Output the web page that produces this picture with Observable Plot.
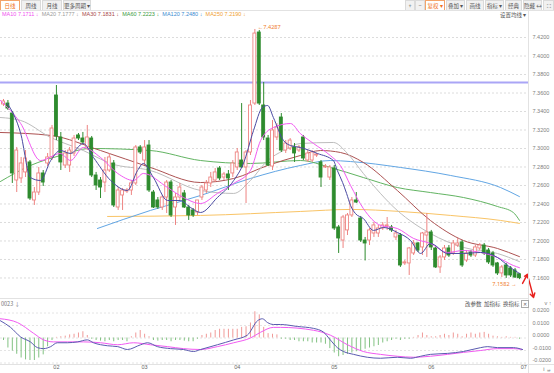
<!DOCTYPE html>
<html><head><meta charset="utf-8">
<script src="https://cdn.jsdelivr.net/npm/d3@7"></script>
<script src="https://cdn.jsdelivr.net/npm/@observablehq/plot@0.6"></script>
<style>
body{margin:0;width:554px;height:373px;overflow:hidden;background:#fff;position:relative;font-family:"Liberation Sans","Noto Sans CJK SC",sans-serif;}
.btn{position:absolute;top:0;height:11px;line-height:10px;font-size:5.5px;color:#555;background:#f1f1f1;border:1px solid #dadada;box-sizing:border-box;text-align:center;font-family:"Noto Sans CJK SC",sans-serif;white-space:nowrap;}
.btn.on{background:#fff;color:#f07020;border-color:#f3a46a;}
.line{position:absolute;background:#e2e2e2;}
#legend{position:absolute;left:2px;top:11px;font-size:5.5px;white-space:nowrap;}
#legend span{margin-right:3.2px;}
.small{position:absolute;font-size:5.5px;color:#555;white-space:nowrap;font-family:"Noto Sans CJK SC",sans-serif;}
#main{position:absolute;left:0;top:20px;}
#macd{position:absolute;left:0;top:298px;}
</style></head><body>
<div id="toolbar"></div>
<div class="line" style="left:0;top:10px;width:554px;height:1px"></div>
<div id="legend"></div>
<div class="small" style="left:500px;top:11px">设置均线 ▾</div>
<div id="main"></div>
<div id="macd"></div>
<div class="line" style="left:0;top:298px;width:528px;height:1px"></div>
<div class="line" style="left:0;top:364px;width:554px;height:1px"></div>
<div class="line" style="left:528px;top:10px;width:1px;height:363px"></div>
<div class="small" style="left:1px;top:300px;color:#777">0023 ↓</div>
<div class="small" style="left:465px;top:300px;color:#555">改参数&nbsp;&nbsp;加指标&nbsp;&nbsp;换指标</div>
<div class="small" style="left:521px;top:300px;width:6px;height:6px;line-height:6px;border:1px solid #aaa;text-align:center;font-size:5px;color:#666">✕</div>
<div class="small" style="left:547px;top:368px;height:5px;line-height:5px;color:#999;font-size:6px;font-family:'Liberation Sans'">»</div>
<script>
// ---------- data ----------
const leftTabs = ["日线","周线","月线","更多周期 ▾"];
const rightTools = ["+","−","复权 ▾","叠加 ▾","画线","指标 ▾","经典","隐藏 ↔","⛶"];
const maNames = ["MA10","MA20","MA30","MA60","MA120","MA250"];
const maLast = [7.1711,7.1777,7.1831,7.2223,7.2480,7.2190];

const opens = [7.3476,7.3486,7.3378,7.2654,7.2676,7.2741,7.2849,7.2438,7.2524,7.2730,
7.2838,7.2903,7.3573,7.3119,7.2816,7.2816,7.2946,7.3141,7.3108,7.3011,
7.3108,7.2708,7.2654,7.2632,7.2762,7.2838,7.2362,7.2492,7.2535,7.2546,
7.2622,7.3011,7.2870,7.3032,7.2524,7.2438,7.2362,7.2470,7.2632,7.2362,
7.2470,7.2514,7.2362,7.2330,7.2308,7.2470,7.2546,7.2622,7.2654,7.2784,
7.2686,7.2719,7.2730,7.2795,7.2870,7.2795,7.2957,7.3486,7.4254,7.3465,
7.3108,7.2805,7.3119,7.3335,7.2978,7.3000,7.3011,7.2978,7.3119,7.2870,
7.2870,7.2924,7.2849,7.2795,7.2686,7.2784,7.2146,7.2005,7.2114,7.2276,
7.2438,7.2243,7.2005,7.2005,7.2081,7.2081,7.2135,7.2157,7.2146,7.2038,
7.2059,7.1757,7.1757,7.1865,7.1973,7.1930,7.2059,7.2092,7.1919,7.1714,
7.1822,7.1919,7.1865,7.1951,7.1984,7.1789,7.1876,7.1843,7.1919,7.1951,
7.1897,7.1865,7.1757,7.1649,7.1735,7.1703,7.1681,7.1640];
const highs = [7.3530,7.3519,7.3400,7.3011,7.2903,7.2978,7.2870,7.2578,7.2795,7.2762,
7.2946,7.3249,7.3681,7.3173,7.2978,7.3011,7.3141,7.3162,7.3173,7.3249,
7.3130,7.2741,7.2686,7.2903,7.2946,7.2870,7.2578,7.2568,7.2568,7.2654,
7.3032,7.3032,7.3086,7.3086,7.2546,7.2470,7.2492,7.2654,7.2654,7.2514,
7.2622,7.2546,7.2384,7.2351,7.2384,7.2600,7.2654,7.2741,7.2784,7.2805,
7.2741,7.2762,7.2870,7.3000,7.3486,7.2978,7.3519,7.4287,7.4276,7.3714,
7.3141,7.3303,7.3270,7.3378,7.3086,7.3108,7.3054,7.3032,7.3141,7.2978,
7.2978,7.2946,7.2870,7.2827,7.2816,7.2816,7.2168,7.2276,7.2297,7.2470,
7.2524,7.2265,7.2038,7.2135,7.2200,7.2168,7.2200,7.2254,7.2168,7.2114,
7.2081,7.1789,7.1930,7.2005,7.1984,7.2092,7.2297,7.2114,7.1941,7.1843,
7.1951,7.1951,7.2005,7.2027,7.2005,7.1897,7.1897,7.1951,7.1973,7.1973,
7.1919,7.1887,7.1768,7.1735,7.1757,7.1724,7.1703,7.1650];
const lows = [7.3454,7.3411,7.2622,7.2524,7.2622,7.2686,7.2438,7.2384,7.2492,7.2589,
7.2805,7.2870,7.3086,7.2762,7.2784,7.2741,7.2914,7.3086,7.3043,7.2978,
7.2686,7.2546,7.2459,7.2524,7.2741,7.2362,7.2330,7.2330,7.2514,7.2492,
7.2600,7.2935,7.2816,7.2524,7.2351,7.2341,7.2330,7.2297,7.2254,7.2168,
7.2438,7.2351,7.2222,7.2254,7.2276,7.2438,7.2514,7.2578,7.2632,7.2654,
7.2654,7.2546,7.2686,7.2762,7.2784,7.2405,7.2924,7.3465,7.3465,7.3086,
7.2805,7.2762,7.3086,7.2957,7.2946,7.2978,7.2849,7.2957,7.2870,7.2849,
7.2849,7.2903,7.2578,7.2784,7.2654,7.2114,7.1865,7.1919,7.2059,7.2254,
7.2405,7.1984,7.1784,7.1951,7.2038,7.2038,7.2114,7.2114,7.2092,7.2005,
7.1714,7.1735,7.1627,7.1843,7.1876,7.1843,7.1822,7.1897,7.1703,7.1649,
7.1789,7.1822,7.1843,7.1930,7.1714,7.1768,7.1822,7.1822,7.1897,7.1843,
7.1746,7.1714,7.1627,7.1605,7.1595,7.1605,7.1595,7.1582];
const closes = [7.3508,7.3432,7.2730,7.2978,7.2838,7.2892,7.2459,7.2524,7.2730,7.2632,
7.2903,7.3216,7.3130,7.2849,7.2946,7.2978,7.3108,7.3108,7.3065,7.3119,
7.2708,7.2600,7.2578,7.2762,7.2903,7.2384,7.2546,7.2546,7.2546,7.2622,
7.3011,7.2957,7.3011,7.2546,7.2362,7.2362,7.2470,7.2632,7.2276,7.2470,
7.2578,7.2362,7.2276,7.2276,7.2438,7.2578,7.2622,7.2686,7.2741,7.2676,
7.2719,7.2676,7.2838,7.2957,7.2795,7.2957,7.3465,7.4243,7.3486,7.3119,
7.2816,7.3195,7.3227,7.2978,7.3054,7.3086,7.2946,7.3011,7.2892,7.2946,
7.2957,7.2935,7.2686,7.2805,7.2795,7.2135,7.2027,7.2254,7.2276,7.2438,
7.2416,7.2005,7.1973,7.2114,7.2168,7.2135,7.2168,7.2168,7.2114,7.2081,
7.1735,7.1768,7.1919,7.1973,7.1897,7.2081,7.2092,7.1930,7.1714,7.1822,
7.1919,7.1843,7.1973,7.1973,7.1735,7.1865,7.1843,7.1930,7.1951,7.1865,
7.1768,7.1735,7.1649,7.1714,7.1627,7.1627,7.1605,7.1598];

// moving-average lines: [candle index, price]
const ma5Pts = [[0.9,7.3486],[3.9,7.3162],[6.1,7.2686],[8.4,7.2654],[10.7,7.2870],[12.9,7.2978],[15.2,7.2946],[18.1,7.3054],[20.4,7.2903],[24.3,7.2654],[28.1,7.2546],[30.4,7.2762],[31.7,7.2838],[34.0,7.2686],[37.2,7.2438],[40.1,7.2438],[42.4,7.2362],[44.7,7.2308],[48.5,7.2470],[52.2,7.2654],[54.4,7.2838],[56.7,7.3195],[58.7,7.3443],[59.9,7.3465],[61.2,7.3335],[63.5,7.3086],[65.1,7.3032],[67.3,7.3011],[71.2,7.2946],[74.8,7.2870],[75.7,7.2762],[76.9,7.2632],[77.8,7.2514],[78.7,7.2384],[79.8,7.2297],[81.6,7.2243],[83.9,7.2114],[86.2,7.2146],[89.3,7.2092],[92.3,7.2005],[94.6,7.1865],[96.8,7.1973],[100.7,7.1865],[104.3,7.1865],[108.2,7.1876],[112.0,7.1822],[114.9,7.1714],[117.0,7.1649]];
const ma10Pts = [[-0.7,7.3519],[3.9,7.3270],[8.4,7.2870],[12.9,7.2946],[15.2,7.2870],[18.1,7.3011],[22.0,7.2903],[25.9,7.2730],[29.5,7.2654],[31.7,7.2730],[37.2,7.2578],[40.8,7.2470],[44.7,7.2405],[48.5,7.2514],[52.2,7.2622],[56.0,7.2762],[58.3,7.3086],[61.2,7.3227],[65.1,7.3270],[67.3,7.3162],[70.3,7.3054],[74.1,7.2924],[76.4,7.2816],[78.7,7.2600],[81.6,7.2351],[85.5,7.2168],[89.3,7.2135],[93.0,7.2027],[96.8,7.1973],[100.7,7.1876],[104.3,7.1897],[108.2,7.1876],[112.0,7.1822],[115.6,7.1735],[117.0,7.1711]];
const ma20Pts = [[-0.7,7.3335],[3.9,7.3303],[10.7,7.3119],[18.1,7.2978],[24.3,7.2838],[33.3,7.2762],[44.7,7.2546],[52.2,7.2514],[56.0,7.2654],[59.9,7.2870],[63.5,7.2978],[67.3,7.3054],[74.8,7.3065],[78.0,7.2946],[81.6,7.2730],[89.3,7.2330],[96.8,7.2081],[104.3,7.1930],[112.0,7.1865],[117.0,7.1777]];
const ma30Pts = [[-0.7,7.3173],[10.7,7.3141],[22.0,7.2978],[33.3,7.2795],[44.7,7.2632],[52.2,7.2676],[59.9,7.2816],[67.3,7.2924],[71.9,7.2978],[76.4,7.2957],[81.6,7.2849],[89.3,7.2546],[96.8,7.2222],[104.3,7.2005],[112.0,7.1919],[117.0,7.1831]];
const ma60Pts = [[-0.7,7.2643],[6.1,7.2816],[12.9,7.2924],[19.7,7.3000],[33.3,7.2978],[44.7,7.2870],[56.0,7.2838],[67.3,7.2870],[74.1,7.2795],[81.6,7.2686],[89.3,7.2578],[96.8,7.2524],[104.3,7.2470],[112.0,7.2373],[115.6,7.2308],[117.0,7.2223]];
const ma120Pts = [[21.3,7.2135],[33.3,7.2330],[44.7,7.2492],[56.0,7.2676],[67.3,7.2816],[74.1,7.2870],[78.7,7.2859],[90.0,7.2795],[101.4,7.2708],[112.7,7.2578],[117.0,7.2480]];
const ma250Pts = [[23.6,7.2265],[44.7,7.2276],[67.3,7.2319],[78.7,7.2341],[90.0,7.2319],[101.4,7.2276],[112.7,7.2222],[117.0,7.2190]];

const purpleLevel = 7.3714;
const highMark = {i: 57, v: 7.4287};
const lowMark = {i: 117, v: 7.1582};
const arrowPath = [[117.7,7.1541],[118.8,7.1638],[120.2,7.1389]];

const priceTicks = [7.42,7.40,7.38,7.36,7.34,7.32,7.30,7.28,7.26,7.24,7.22,7.20,7.18,7.16];
const macdTicks = [0.02,0.01,0,-0.01,-0.02];
const monthIdx = [12,32,53,75,97,118];
const monthLabels = ["02","03","04","05","06","07"];

const hist = [-0.002,-0.008,-0.0105,-0.013,-0.016,-0.0175,-0.018,-0.018,-0.016,-0.0135,
-0.007,-0.002,0.0005,0.001,0.0015,0.0025,0.003,0.004,0.005,0.002,
-0.001,-0.002,-0.0025,-0.003,-0.002,-0.003,-0.002,-0.002,-0.003,0.001,
0.004,0.006,0.003,0.001,-0.002,-0.0025,-0.002,-0.002,-0.003,-0.002,
-0.002,-0.0025,-0.003,-0.003,-0.001,0.002,0.003,0.004,0.006,0.007,
0.007,0.007,0.007,0.007,0.0085,0.009,0.012,0.021,0.0185,0.0085,
0.0035,0.003,0.0025,-0.001,-0.001,-0.002,-0.002,-0.003,-0.003,-0.003,
-0.004,-0.004,-0.004,-0.005,-0.0085,-0.012,-0.015,-0.014,-0.013,-0.012,
-0.011,-0.010,-0.009,-0.008,-0.007,-0.006,-0.004,-0.003,-0.002,-0.001,
-0.002,-0.001,-0.001,0.0005,0.002,0.004,0.002,0.001,0.001,0.002,
0.003,0.002,0.004,0.003,0.001,0.003,0.004,0.003,0.004,0.0045,
0.003,0.0015,0.001,0.0005,0.001,0.0005,0.0005,-0.001];
const difPts = [[-0.7,0.0138],[1.6,0.0085],[3.9,0.0008],[6.1,-0.0031],[7.7,-0.0077],[9.1,-0.0085],[10.7,-0.0069],[12.2,-0.0038],[14.5,-0.0038],[16.8,-0.0031],[19.0,-0.0015],[20.4,-0.0038],[23.6,-0.0062],[25.9,-0.0069],[28.1,-0.0092],[31.1,-0.0054],[32.7,-0.0038],[34.9,-0.0069],[37.9,-0.0085],[40.8,-0.0092],[43.1,-0.0108],[44.7,-0.0092],[48.5,-0.0054],[52.2,-0.0015],[55.3,0.0023],[57.6,0.0138],[58.7,0.0154],[59.9,0.0123],[61.2,0.0108],[62.8,0.0108],[66.7,0.0092],[70.3,0.0077],[72.6,0.0046],[74.1,-0.0015],[75.7,-0.0077],[77.1,-0.0108],[79.4,-0.0131],[82.5,-0.0154],[85.5,-0.0162],[89.3,-0.0154],[92.3,-0.0162],[94.6,-0.0146],[96.8,-0.0131],[100.7,-0.0123],[104.3,-0.0108],[108.2,-0.0077],[109.8,-0.0069],[112.0,-0.0077],[115.6,-0.0077],[117.7,-0.0092]];
const deaPts = [[-0.7,0.0154],[3.2,0.0123],[6.8,0.0038],[9.1,-0.0015],[11.3,-0.0031],[14.5,-0.0031],[18.1,-0.0031],[22.0,-0.0038],[25.9,-0.0054],[29.5,-0.0038],[33.3,-0.0054],[37.2,-0.0069],[40.8,-0.0085],[44.7,-0.0092],[48.5,-0.0069],[52.2,-0.0038],[56.0,0.0000],[58.3,0.0046],[61.2,0.0085],[62.8,0.0085],[70.3,0.0062],[74.1,0.0023],[78.0,-0.0054],[81.6,-0.0108],[85.5,-0.0131],[89.3,-0.0146],[93.0,-0.0154],[96.8,-0.0146],[100.7,-0.0131],[104.3,-0.0115],[108.2,-0.0100],[112.0,-0.0085],[115.6,-0.0085],[117.7,-0.0092]];

// ---------- styling ----------
const UP = "#ee8482", DOWN = "#2e8b2e";
const maColors = ["#f050f0","#999999","#a84848","#3a9a3a","#3a8ad0","#f0a030"];
const lineColors = {ma5:"#4a4aa2", ma10:"#f25af2", ma20:"#bdbdbd", ma30:"#ad5252", ma60:"#62b462", ma120:"#62a6e4", ma250:"#f9c466"};

// toolbar
const tb = document.getElementById("toolbar");
const lw = [20,20,20,28]; let lx = 0;
leftTabs.forEach((t,k)=>{const d=document.createElement("div");d.className="btn"+(k===0?" on":"");d.style.left=lx+"px";d.style.width=lw[k]+"px";d.textContent=t;tb.appendChild(d);lx+=lw[k]+1;});
const rl = [405,415,425,446,466,485,505,523,543], rw=[10,10,20,19,18,19,17,19,11];
rightTools.forEach((t,k)=>{const d=document.createElement("div");d.className="btn"+(k===2?" on":"");d.style.left=rl[k]+"px";d.style.width=rw[k]+"px";d.textContent=t;tb.appendChild(d);});
// legend
const lg = document.getElementById("legend");
maNames.forEach((n,k)=>{const s=document.createElement("span");s.style.color=maColors[k];s.textContent=n+" "+maLast[k].toFixed(4)+" ↓";lg.appendChild(s);});

const candles = opens.map((o,i)=>({i, o, h: highs[i], l: lows[i], c: closes[i], up: closes[i] >= o}));
const xDomain = [-0.68, 119.05];
const fmt4 = d3.format(".4f");
const axisFont = {fontSize: 5.5, fill: "#808080", fontFamily: "Liberation Sans"};
const ptsLine = (pts, color, w=1) => Plot.line(pts, {x: d=>d[0], y: d=>d[1], stroke: color, strokeWidth: w, curve: "monotone-x"});

const main = Plot.plot({
  width: 554, height: 278, marginLeft: 0, marginRight: 26, marginTop: 0, marginBottom: 0,
  x: {domain: xDomain, axis: null},
  y: {domain: [7.1378, 7.4384], axis: null},
  color: {type: "identity"},
  style: {background: "transparent", overflow: "visible"},
  marks: [
    Plot.gridY(priceTicks, {stroke: "#dcdcdc", strokeOpacity: 1, strokeDasharray: "2,2"}),
    Plot.axisY(priceTicks, {anchor: "right", tickSize: 0, tickPadding: 4, tickFormat: fmt4, ...axisFont}),
    Plot.ruleY([purpleLevel], {stroke: "#aaa5f6", strokeWidth: 2}),
    ptsLine(ma250Pts, lineColors.ma250),
    ptsLine(ma120Pts, lineColors.ma120),
    ptsLine(ma60Pts, lineColors.ma60),
    ptsLine(ma30Pts, lineColors.ma30),
    ptsLine(ma20Pts, lineColors.ma20),
    Plot.ruleX(candles, {x: "i", y1: "l", y2: "h", stroke: d => d.up ? UP : DOWN, strokeWidth: 1}),
    Plot.rect(candles, {x1: d => d.i - 0.33, x2: d => d.i + 0.33, y1: "o", y2: "c", fill: d => d.up ? "#ffffff" : DOWN, stroke: d => d.up ? UP : DOWN, strokeWidth: 0.9}),
    ptsLine(ma10Pts, lineColors.ma10),
    ptsLine(ma5Pts, lineColors.ma5),
    Plot.text([highMark], {x: "i", y: "v", text: d => "←" + d.v.toFixed(4), textAnchor: "start", dx: 3, dy: -2, fill: "#f07d2c", fontSize: 5.5}),
    Plot.text([lowMark], {x: "i", y: "v", text: d => d.v.toFixed(4) + " →", textAnchor: "end", dx: -3, dy: 5, fill: "#f07d2c", fontSize: 5.5}),
    Plot.arrow([0,1], {x1: k => arrowPath[k][0], y1: k => arrowPath[k][1], x2: k => arrowPath[k+1][0], y2: k => arrowPath[k+1][1], stroke: "#e8201c", strokeWidth: 1.4, headLength: 5})
  ]
});
document.getElementById("main").appendChild(main);

const histData = hist.map((v,i)=>({i, v}));
const macd = Plot.plot({
  width: 554, height: 75, marginLeft: 0, marginRight: 26, marginTop: 0, marginBottom: 9,
  x: {domain: xDomain, axis: null},
  y: {domain: [-0.0212, 0.0316], axis: null},
  color: {type: "identity"},
  style: {background: "transparent", overflow: "visible"},
  marks: [
    Plot.gridY(macdTicks, {stroke: "#e4e4e4", strokeOpacity: 1, strokeDasharray: "2,2"}),
    Plot.axisY(macdTicks, {anchor: "right", tickSize: 0, tickPadding: 4, dy: -2.5, tickFormat: d => fmt4(d).replace("−","-"), ...axisFont}),
    Plot.axisX(monthIdx, {anchor: "bottom", tickSize: 0, tickPadding: 1, tickFormat: d => monthLabels[monthIdx.indexOf(d)], ...axisFont, fill: "#666"}),
    Plot.ruleX(histData, {x: "i", y1: 0, y2: "v", stroke: d => d.v >= 0 ? "#f09a98" : "#82c282", strokeWidth: 1}),
    ptsLine(deaPts, "#f25af2"),
    ptsLine(difPts, "#5a5ab0")
  ]
});
document.getElementById("macd").appendChild(macd);
</script>
</body></html>
